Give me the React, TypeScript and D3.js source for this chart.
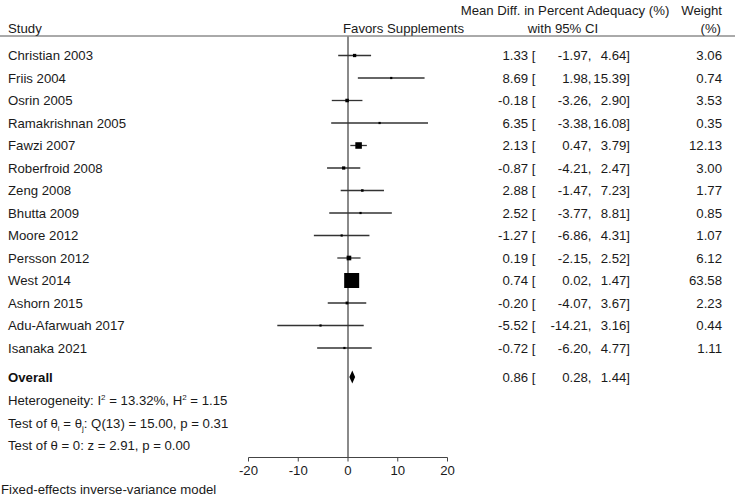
import React from "react";
import * as d3 from "d3";

const studies = ["Christian 2003","Friis 2004","Osrin 2005","Ramakrishnan 2005","Fawzi 2007","Roberfroid 2008","Zeng 2008","Bhutta 2009","Moore 2012","Persson 2012","West 2014","Ashorn 2015","Adu-Afarwuah 2017","Isanaka 2021"];
const effects = [1.33, 8.69, -0.18, 6.35, 2.13, -0.87, 2.88, 2.52, -1.27, 0.19, 0.74, -0.20, -5.52, -0.72];
const lowers = [-1.97, 1.98, -3.26, -3.38, 0.47, -4.21, -1.47, -3.77, -6.86, -2.15, 0.02, -4.07, -14.21, -6.20];
const uppers = [4.64, 15.39, 2.90, 16.08, 3.79, 2.47, 7.23, 8.81, 4.31, 2.52, 1.47, 3.67, 3.16, 4.77];
const weights = [3.06, 0.74, 3.53, 0.35, 12.13, 3.00, 1.77, 0.85, 1.07, 6.12, 63.58, 2.23, 0.44, 1.11];
const overall = { effect: 0.86, lower: 0.28, upper: 1.44 };
const xTicks = [-20, -10, 0, 10, 20];

const FONT = "'Liberation Sans', Arial, Helvetica, sans-serif";

export default function App() {
  const W = 735, H = 499;
  const x = d3.scaleLinear().domain([-20, 20]).range([248.5, 447.5]);
  const y0 = 55.5, step = 22.5;
  const rowY = (i: number) => y0 + i * step;
  const overallY = 377;
  const size = d3.scaleSqrt().domain([0, d3.max(weights) as number]).range([0, 15]);
  const axisY = 457.5;
  const headerLineY = 36;
  const fs = 13.2;
  const colEff = 535.5, colLo = 591.5, colHi = 630, colW = 722;
  const fmt = d3.format(".2f");
  const num = (v: number) => fmt(v).replace("−", "-");
  const txt = "#1a1a1a";

  return (
    <svg width={W} height={H} style={{ position: "absolute", left: 0, top: 0, background: "#fff" }} fontFamily={FONT} fontSize={fs}>
      <rect width={W} height={H} fill="#fff" />
      {/* header */}
      <text x={565} y={10.5} dy="0.35em" textAnchor="middle" fill={txt}>Mean Diff. in Percent Adequacy (%)</text>
      <text x={722} y={10.5} dy="0.35em" textAnchor="end" fill={txt}>Weight</text>
      <text x={8} y={28} dy="0.35em" fill={txt}>Study</text>
      <text x={464} y={28} dy="0.35em" textAnchor="end" fill={txt}>Favors Supplements</text>
      <text x={563} y={28} dy="0.35em" textAnchor="middle" fill={txt}>with 95% CI</text>
      <text x={721} y={28} dy="0.35em" textAnchor="end" fill={txt}>(%)</text>
      <line x1={0} x2={W} y1={headerLineY} y2={headerLineY} stroke="#555" strokeWidth={1} />

      {/* zero line */}
      <line x1={x(0)} x2={x(0)} y1={headerLineY} y2={axisY} stroke="#8a8a8a" strokeWidth={2} />

      {studies.map((s, i) => {
        const cy = rowY(i);
        const sz = Math.max(2.2, size(weights[i]));
        return (
          <g key={s}>
            <text x={8} y={cy} dy="0.35em" fill={txt}>{s}</text>
            <line x1={x(lowers[i])} x2={x(uppers[i])} y1={cy} y2={cy} stroke="#333" strokeWidth={1.3} />
            <rect x={x(effects[i]) - sz / 2} y={cy - sz / 2} width={sz} height={sz} fill="#000" />
            <text x={colEff} y={cy} dy="0.35em" textAnchor="end" fill={txt}>{num(effects[i])} [</text>
            <text x={colLo} y={cy} dy="0.35em" textAnchor="end" fill={txt}>{num(lowers[i])},</text>
            <text x={colHi} y={cy} dy="0.35em" textAnchor="end" fill={txt}>{num(uppers[i])}]</text>
            <text x={colW} y={cy} dy="0.35em" textAnchor="end" fill={txt}>{num(weights[i])}</text>
          </g>
        );
      })}

      {/* overall */}
      <text x={8} y={overallY} dy="0.35em" fontWeight="bold" fill="#111">Overall</text>
      <path
        d={`M${x(overall.lower)},${overallY} L${x(overall.effect)},${overallY - 6.5} L${x(overall.upper)},${overallY} L${x(overall.effect)},${overallY + 6.5} Z`}
        fill="#000"
      />
      <text x={colEff} y={overallY} dy="0.35em" textAnchor="end" fill={txt}>{num(overall.effect)} [</text>
      <text x={colLo} y={overallY} dy="0.35em" textAnchor="end" fill={txt}>{num(overall.lower)},</text>
      <text x={colHi} y={overallY} dy="0.35em" textAnchor="end" fill={txt}>{num(overall.upper)}]</text>

      {/* stats */}
      <text x={8} y={400} dy="0.35em" fill={txt}>
        Heterogeneity: I<tspan dy="-5" fontSize={8}>2</tspan><tspan dy="5"> = 13.32%, H</tspan><tspan dy="-5" fontSize={8}>2</tspan><tspan dy="5"> = 1.15</tspan>
      </text>
      <text x={8} y={423} dy="0.35em" fill={txt}>
        Test of θ<tspan dy="3" fontSize={8}>i</tspan><tspan dy="-3"> = θ</tspan><tspan dy="3" fontSize={8}>j</tspan><tspan dy="-3">: Q(13) = 15.00, p = 0.31</tspan>
      </text>
      <text x={8} y={445} dy="0.35em" fill={txt}>Test of θ = 0: z = 2.91, p = 0.00</text>

      {/* axis */}
      <line x1={x(-20)} x2={x(20)} y1={axisY} y2={axisY} stroke="#444" strokeWidth={1} />
      {xTicks.map((t) => (
        <g key={t}>
          <line x1={x(t)} x2={x(t)} y1={axisY} y2={axisY + 4} stroke="#444" strokeWidth={1} />
          <text x={x(t)} y={470} dy="0.35em" textAnchor="middle" fill={txt}>{t}</text>
        </g>
      ))}

      <text x={1} y={489} dy="0.35em" fill={txt}>Fixed-effects inverse-variance model</text>
    </svg>
  );
}
